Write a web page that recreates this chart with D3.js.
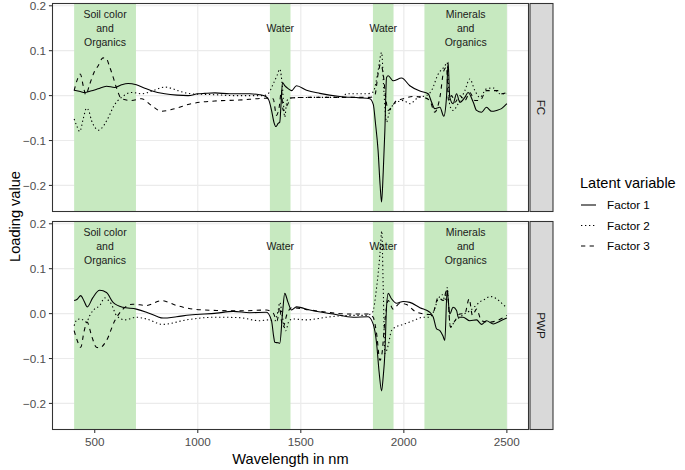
<!DOCTYPE html>
<html><head><meta charset="utf-8">
<script src="https://cdn.jsdelivr.net/npm/d3@7"></script>
<style>body{margin:0;background:#fff}svg{display:block;font-family:"Liberation Sans",Arial,sans-serif}</style>
</head><body><svg id="c" width="685" height="470"></svg>
<script>
// ---------------- data ----------------
const panels = ["FC", "PWP"];
const factors = ["Factor 1", "Factor 2", "Factor 3"];
const xTicks = [500, 1000, 1500, 2000, 2500];
const yTicks = [-0.2, -0.1, 0.0, 0.1, 0.2];
const bandStart = [400, 1350, 1850, 2100];
const bandEnd = [700, 1450, 1950, 2500];
const bandLabel = ["Soil color\nand\nOrganics", "Water", "Water", "Minerals\nand\nOrganics"];
const bandLabelY = 0.15;

// [wavelength nm, loading]
const fcFactor1 = [[400,0.012],[430,0.009],[451,0.007],[480,0.01],[516,0.015],[557,0.021],[597,0.018],[630,0.024],[662,0.027],[702,0.024],[740,0.017],[775,0.011],[840,0.004],[900,0.001],[953,0.0],[1000,0.004],[1034,0.005],[1083,0.006],[1155,0.004],[1252,0.004],[1300,0.002],[1330,-0.002],[1345,-0.01],[1358,-0.033],[1370,-0.06],[1379,-0.069],[1390,-0.062],[1398,-0.059],[1404,-0.02],[1411,0.029],[1422,0.022],[1440,0.015],[1455,0.011],[1479,0.022],[1528,0.012],[1592,0.005],[1689,-0.002],[1786,-0.005],[1835,-0.007],[1852,-0.02],[1862,-0.06],[1875,-0.122],[1885,-0.2],[1892,-0.237],[1900,-0.17],[1908,-0.077],[1916,0.04],[1924,0.044],[1948,0.033],[1989,0.039],[2029,0.022],[2078,0.01],[2118,0.004],[2135,-0.015],[2150,-0.029],[2175,-0.026],[2194,-0.046],[2207,-0.004],[2215,0.074],[2223,-0.004],[2239,-0.018],[2256,0.004],[2272,-0.015],[2296,-0.004],[2312,0.007],[2337,-0.015],[2353,-0.033],[2377,-0.037],[2401,-0.026],[2426,-0.035],[2450,-0.033],[2474,-0.029],[2500,-0.018]];
const fcFactor2 = [[400,-0.052],[415,-0.07],[427,-0.08],[445,-0.05],[460,-0.028],[472,-0.035],[484,-0.055],[500,-0.07],[516,-0.077],[535,-0.072],[549,-0.063],[570,-0.045],[589,-0.026],[610,-0.012],[630,-0.004],[678,0.007],[727,0.004],[783,0.011],[840,0.019],[880,0.015],[904,0.011],[969,0.004],[1083,0.002],[1170,0.0],[1317,0.0],[1341,0.004],[1366,0.026],[1385,0.045],[1398,0.059],[1411,0.018],[1422,-0.048],[1433,-0.011],[1455,-0.005],[1550,-0.004],[1700,-0.004],[1722,0.004],[1819,0.004],[1851,0.008],[1865,0.03],[1875,0.055],[1892,0.096],[1903,0.011],[1916,-0.059],[1928,-0.04],[1940,-0.026],[1965,-0.015],[1997,-0.011],[2029,-0.018],[2070,-0.004],[2110,0.0],[2134,0.011],[2167,0.048],[2199,0.066],[2210,0.074],[2223,-0.022],[2239,-0.033],[2264,-0.018],[2296,0.011],[2320,0.037],[2345,0.011],[2369,-0.004],[2401,0.015],[2434,0.017],[2466,0.004],[2500,0.004]];
const fcFactor3 = [[400,0.011],[415,0.035],[430,0.048],[445,0.02],[456,0.002],[476,0.026],[500,0.055],[516,0.066],[540,0.084],[555,0.083],[573,0.063],[590,0.04],[605,0.018],[630,-0.007],[678,-0.011],[727,-0.007],[775,-0.022],[824,-0.035],[888,-0.029],[969,-0.018],[1083,-0.012],[1200,-0.01],[1333,-0.006],[1366,-0.007],[1382,-0.044],[1395,-0.026],[1406,0.011],[1414,-0.033],[1433,-0.022],[1455,-0.005],[1550,-0.004],[1835,-0.004],[1859,0.0],[1875,0.048],[1887,0.07],[1900,0.048],[1912,-0.004],[1924,-0.033],[1940,-0.026],[1965,-0.011],[1997,-0.007],[2045,-0.002],[2094,-0.004],[2126,-0.011],[2150,-0.037],[2175,-0.004],[2194,0.055],[2207,0.063],[2217,-0.011],[2232,0.0],[2248,-0.015],[2272,0.0],[2296,-0.011],[2320,0.007],[2345,-0.011],[2369,-0.011],[2401,0.011],[2434,0.011],[2458,0.011],[2474,0.004],[2500,0.007]];
const pwpFactor1 = [[400,0.029],[415,0.032],[432,0.04],[448,0.028],[464,0.015],[490,0.035],[524,0.052],[557,0.047],[589,0.025],[637,0.014],[702,0.01],[751,0.003],[800,-0.006],[832,-0.01],[897,-0.007],[961,-0.003],[1091,0.001],[1171,0.005],[1252,0.002],[1333,0.003],[1358,-0.016],[1368,-0.05],[1374,-0.064],[1390,-0.065],[1398,-0.066],[1411,-0.001],[1422,0.045],[1438,0.025],[1455,0.008],[1479,0.015],[1544,0.008],[1657,-0.001],[1754,-0.008],[1827,-0.007],[1851,-0.023],[1868,-0.067],[1880,-0.13],[1892,-0.172],[1900,-0.14],[1908,-0.089],[1916,0.014],[1924,0.045],[1940,0.033],[1965,0.023],[1997,0.027],[2029,0.025],[2078,0.013],[2126,0.003],[2143,-0.008],[2159,-0.034],[2175,-0.038],[2190,-0.05],[2199,-0.06],[2210,0.051],[2223,-0.001],[2239,0.014],[2256,0.007],[2264,-0.008],[2288,-0.008],[2320,-0.016],[2353,-0.014],[2377,-0.024],[2401,-0.016],[2434,-0.023],[2466,-0.017],[2500,-0.01]];
const pwpFactor2 = [[400,-0.027],[415,-0.013],[432,-0.012],[460,-0.019],[475,-0.005],[492,0.007],[524,0.018],[549,0.035],[557,0.033],[581,0.021],[605,-0.004],[646,-0.014],[702,-0.008],[751,-0.012],[832,-0.024],[945,-0.014],[1091,-0.008],[1200,-0.009],[1301,-0.016],[1341,-0.014],[1374,-0.016],[1390,0.007],[1398,0.025],[1411,-0.008],[1427,-0.038],[1443,-0.016],[1463,-0.012],[1528,-0.014],[1625,-0.008],[1738,-0.004],[1819,-0.004],[1848,0.003],[1868,0.058],[1884,0.132],[1893,0.184],[1900,0.058],[1908,-0.089],[1924,-0.071],[1940,-0.038],[1965,-0.029],[1997,-0.024],[2045,-0.016],[2094,-0.008],[2126,-0.008],[2143,0.003],[2167,0.033],[2188,0.042],[2199,0.029],[2210,0.058],[2226,-0.03],[2248,-0.016],[2272,-0.008],[2296,0.0],[2320,0.006],[2345,0.016],[2369,0.026],[2393,0.032],[2418,0.038],[2450,0.033],[2482,0.02],[2500,0.013]];
const pwpFactor3 = [[400,-0.038],[415,-0.06],[432,-0.075],[448,-0.04],[463,-0.019],[485,-0.05],[508,-0.075],[524,-0.076],[557,-0.06],[597,-0.016],[637,0.01],[686,0.021],[751,0.018],[824,0.029],[897,0.018],[977,0.01],[1091,0.007],[1200,0.006],[1333,0.008],[1366,0.001],[1385,-0.016],[1398,0.014],[1406,-0.016],[1414,-0.03],[1433,-0.001],[1455,0.013],[1544,0.008],[1738,-0.001],[1827,-0.001],[1851,-0.008],[1868,-0.045],[1884,-0.104],[1894,-0.089],[1908,-0.016],[1924,0.029],[1948,0.01],[1981,0.023],[2013,0.02],[2062,0.003],[2126,-0.002],[2143,0.003],[2167,0.036],[2191,0.029],[2210,0.055],[2226,-0.03],[2248,-0.016],[2272,-0.001],[2296,0.0],[2317,0.033],[2333,-0.004],[2353,0.01],[2377,-0.016],[2418,-0.019],[2450,-0.016],[2500,-0.004]];

const seriesByPanel = {
  FC: [fcFactor1, fcFactor2, fcFactor3],
  PWP: [pwpFactor1, pwpFactor2, pwpFactor3]
};

// ---------------- layout ----------------
const svg = d3.select("#c");
const left = 52.5, right = 528.5, panelH = 208;
const panelTop = {FC: 3.5, PWP: 221.5};
const dashes = ["none", "1.3,2.7", "4.3,4.3"];
const lw = 1.07;
const font = 11.7;

const x = d3.scaleLinear().domain([295, 2605]).range([left, right]);
const allVals = Object.values(seriesByPanel).flat().flat().map(d => d[1]);
const yMin = d3.min(allVals), yMax = d3.max(allVals), yPad = (yMax - yMin) * 0.05;

panels.forEach((p, pi) => {
  const top = panelTop[p];
  const y = d3.scaleLinear().domain([yMin - yPad, yMax + yPad]).range([top + panelH, top]);
  const g = svg.append("g");
  const clipId = "clip" + pi;
  svg.append("clipPath").attr("id", clipId).append("rect")
    .attr("x", left).attr("y", top).attr("width", right - left).attr("height", panelH);

  // grid
  g.selectAll(".gx").data(xTicks).enter().append("line")
    .attr("x1", d => x(d)).attr("x2", d => x(d)).attr("y1", top).attr("y2", top + panelH)
    .attr("stroke", "#EBEBEB").attr("stroke-width", 1.2);
  g.selectAll(".gy").data(yTicks).enter().append("line")
    .attr("x1", left).attr("x2", right).attr("y1", d => y(d)).attr("y2", d => y(d))
    .attr("stroke", "#EBEBEB").attr("stroke-width", 1.2);

  // bands
  g.selectAll(".band").data(bandStart).enter().append("rect")
    .attr("x", (d, i) => x(d)).attr("width", (d, i) => x(bandEnd[i]) - x(d))
    .attr("y", top).attr("height", panelH).attr("fill", "#C7E9C0");

  // band labels
  bandLabel.forEach((lab, i) => {
    const lines = lab.split("\n");
    const cx = x((bandStart[i] + bandEnd[i]) / 2);
    const cy = y(bandLabelY);
    const lh = 14.2;
    const t = g.append("text").attr("text-anchor", "middle").attr("font-size", 10.5).attr("fill", "#1a1a1a");
    lines.forEach((ln, k) => {
      t.append("tspan").attr("x", cx)
        .attr("y", cy + (k - (lines.length - 1) / 2) * lh + 3.7).text(ln);
    });
  });

  // lines
  const line = d3.line().x(d => x(d[0])).y(d => y(d[1])).curve(d3.curveMonotoneX);
  const lg = g.append("g").attr("clip-path", `url(#${clipId})`);
  seriesByPanel[p].forEach((s, k) => {
    lg.append("path").attr("d", line(s)).attr("fill", "none").attr("stroke", "#000")
      .attr("stroke-width", lw).attr("stroke-dasharray", dashes[k]).attr("stroke-linejoin", "round");
  });

  // border
  g.append("rect").attr("x", left).attr("y", top).attr("width", right - left).attr("height", panelH)
    .attr("fill", "none").attr("stroke", "#333").attr("stroke-width", 1.07);

  // y axis ticks
  g.selectAll(".ty").data(yTicks).enter().append("line")
    .attr("x1", left - 3.6).attr("x2", left).attr("y1", d => y(d)).attr("y2", d => y(d))
    .attr("stroke", "#333").attr("stroke-width", 1.07);
  g.selectAll(".ly").data(yTicks).enter().append("text")
    .attr("x", left - 6.5).attr("y", d => y(d)).attr("dy", "0.35em").attr("text-anchor", "end")
    .attr("font-size", font).attr("fill", "#4D4D4D")
    .text(d => d3.format(".1f")(d).replace("-", "\u2212"));

  // strip
  g.append("rect").attr("x", right + 1.5).attr("y", top).attr("width", 23).attr("height", panelH)
    .attr("fill", "#D9D9D9").attr("stroke", "#333").attr("stroke-width", 1.07);
  g.append("text").attr("transform", `translate(${right + 13},${top + panelH / 2}) rotate(90)`)
    .attr("text-anchor", "middle").attr("dy", "0.35em").attr("font-size", font).attr("fill", "#1a1a1a").text(p);

  if (pi === 1) {
    g.selectAll(".tx").data(xTicks).enter().append("line")
      .attr("x1", d => x(d)).attr("x2", d => x(d)).attr("y1", top + panelH).attr("y2", top + panelH + 3.6)
      .attr("stroke", "#333").attr("stroke-width", 1.07);
    g.selectAll(".lx").data(xTicks).enter().append("text")
      .attr("x", d => x(d)).attr("y", top + panelH + 16.5).attr("text-anchor", "middle")
      .attr("font-size", font).attr("fill", "#4D4D4D").text(d => d);
  }
});

// axis titles
svg.append("text").attr("x", (left + right) / 2).attr("y", 464).attr("text-anchor", "middle")
  .attr("font-size", 14.6).attr("fill", "#000").text("Wavelength in nm");
svg.append("text").attr("transform", `translate(20,${(panelTop.FC + panelTop.PWP + panelH) / 2}) rotate(-90)`)
  .attr("text-anchor", "middle").attr("font-size", 14.6).attr("fill", "#000").text("Loading value");

// legend
const lgx = 580, lgTitleY = 188;
svg.append("text").attr("x", lgx).attr("y", lgTitleY).attr("font-size", 14.6).attr("fill", "#000").text("Latent variable");
factors.forEach((f, k) => {
  const cy = 205 + k * 20.5;
  svg.append("line").attr("x1", lgx + 1).attr("x2", lgx + 16).attr("y1", cy).attr("y2", cy)
    .attr("stroke", "#000").attr("stroke-width", lw).attr("stroke-dasharray", dashes[k]);
  svg.append("text").attr("x", lgx + 27).attr("y", cy).attr("dy", "0.35em").attr("font-size", font)
    .attr("fill", "#000").text(f);
});
</script></body></html>
